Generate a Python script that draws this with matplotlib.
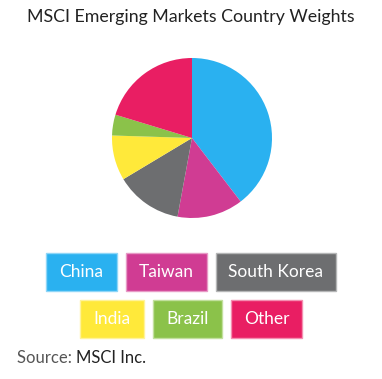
import matplotlib.pyplot as plt
from matplotlib.patches import Rectangle

countries = ['China', 'Taiwan', 'South Korea', 'India', 'Brazil', 'Other']
weights = [39.6, 13.3, 13.5, 9.1, 4.2, 20.3]
colors = ['#2AB1F0', '#D03C93', '#6D6E70', '#FFE93A', '#8BC24A', '#E91E63']
edges = ['#8FD6F7', '#E79AC6', '#B5B6B7', '#FFF39A', '#C2E09E', '#F48FB1']

W, H = 382, 379
fig = plt.figure(figsize=(W / 100, H / 100), dpi=100)
plt.rcParams['font.family'] = ['Lato', 'DejaVu Sans']

# pie: centre (192,138), radius 80 px
cx, cy, r = 192, 138, 80
ax = fig.add_axes([(cx - r) / W, 1 - (cy + r) / H, 2 * r / W, 2 * r / H])
ax.pie(weights, colors=colors, startangle=90, counterclock=False,
       wedgeprops={'linewidth': 0})
ax.set_xlim(-1, 1)
ax.set_ylim(-1, 1)
ax.set_aspect('equal')
ax.axis('off')

fig.text(191 / W, 1 - 17 / H, 'MSCI Emerging Markets Country Weights',
         ha='center', va='center', fontsize=12.8, color='#222222')

# legend boxes (x0, x1, y0, y1) in px
boxes = [(46, 117, 253, 291), (126, 207, 253, 291), (216, 336, 253, 291),
         (80, 144, 300, 338), (153, 222, 300, 338), (231, 302, 300, 338)]
for name, c, e, (x0, x1, y0, y1) in zip(countries, colors, edges, boxes):
    fig.patches.append(Rectangle((x0 / W, 1 - y1 / H), (x1 - x0) / W, (y1 - y0) / H,
                                 transform=fig.transFigure, facecolor=c,
                                 edgecolor=e, linewidth=1))
    fig.text((x0 + x1) / 2 / W, 1 - (y0 + y1) / 2 / H, name, ha='center',
             va='center', color='white', fontsize=12.5)

t = fig.text(17 / W, 1 - 358 / H, 'Source: ', ha='left', va='center',
             fontsize=12, color='#555555')
fig.canvas.draw()
bb = t.get_window_extent()
fig.text(bb.x1 / W, 1 - 358 / H, 'MSCI Inc.', ha='left', va='center',
         fontsize=12, color='#222222')

fig.savefig('out.png', dpi=100)
